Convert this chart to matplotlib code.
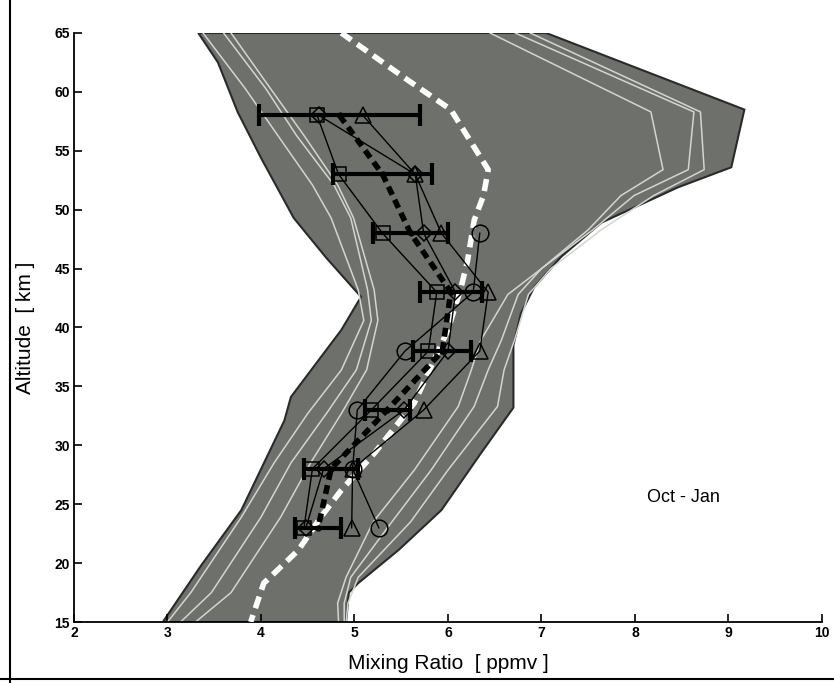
import matplotlib.pyplot as plt
from matplotlib.lines import Line2D

plt.rcParams['font.family'] = ['Liberation Sans', 'DejaVu Sans']

# altitude levels of the measurements
alt = [58, 53, 48, 43, 38, 33, 28, 23]
square = [4.60, 4.83, 5.30, 5.88, 5.79, 5.18, 4.55, 4.46]
diamond = [4.62, 5.65, 5.74, 6.08, 6.00, 5.53, 4.67, 4.48]
triangle = [5.09, 5.65, 5.93, 6.43, 6.34, 5.74, 4.98, 4.97]
circle_alt = [48, 43, 38, 33, 28, 23]
circle = [6.34, 6.27, 5.54, 5.03, 4.98, 5.26]
mean = [4.84, 5.30, 5.60, 6.03, 5.94, 5.35, 4.75, 4.61]
err = [0.86, 0.53, 0.40, 0.33, 0.31, 0.24, 0.29, 0.25]

# envelope (shaded range), clockwise from top-left
env_x = [3.33, 3.54, 3.75, 4.00, 4.35, 4.70, 5.07, 4.86, 4.32, 4.25, 3.79, 3.36, 2.95,
         4.91, 4.94, 5.04, 5.47, 5.93, 6.35, 6.70, 6.70, 6.78, 6.92, 7.21, 7.64, 8.46,
         9.03, 9.17, 7.05]
env_y = [65, 62.5, 58.3, 54.4, 49.3, 45.9, 42.6, 39.8, 34.1, 32.1, 24.5, 19.8, 15,
         15, 17.5, 18.3, 21.1, 24.5, 29.3, 33.2, 38.5, 41.2, 43.4, 46.0, 48.9, 51.9,
         53.6, 58.5, 65]

# thin light percentile lines
left_y = [65, 60.3, 56.3, 52.1, 49.3, 43.2, 40.6, 36.4, 32.7, 28.5, 23.9, 17.5, 15]
left1_x = [3.38, 3.83, 4.18, 4.55, 4.75, 5.04, 5.10, 4.86, 4.50, 4.14, 3.79, 3.25, 3.00]
left2_x = [3.60, 4.05, 4.38, 4.78, 4.96, 5.14, 5.18, 5.02, 4.70, 4.32, 4.00, 3.47, 3.14]
left3_x = [3.68, 4.10, 4.46, 4.82, 4.99, 5.21, 5.25, 5.13, 4.86, 4.53, 4.21, 3.68, 3.30]

right_y = [65, 58.3, 53.4, 51.2, 48.3, 45.0, 42.8, 38.9, 36.4, 33.3, 27.9, 23.5, 18.8, 16.6, 15]
right1_x = [6.45, 8.17, 8.30, 7.85, 7.50, 7.00, 6.64, 6.35, 6.25, 6.11, 5.64, 5.20, 4.91, 4.82, 4.83]
right2_x = [6.72, 8.63, 8.57, 7.99, 7.55, 7.00, 6.75, 6.57, 6.43, 6.28, 5.82, 5.40, 4.96, 4.89, 4.89]
right3_x = [6.88, 8.70, 8.74, 8.20, 7.64, 7.10, 6.86, 6.71, 6.60, 6.53, 6.00, 5.60, 5.04, 4.93, 4.91]

# climatology (white dashed)
clim_x = [4.86, 5.57, 6.03, 6.43, 6.38, 6.28, 6.21, 6.14, 6.00, 5.64, 5.21, 4.86, 4.64, 4.40, 4.03, 3.89]
clim_y = [65, 61.0, 58.5, 53.4, 51.2, 49.1, 45.7, 43.4, 39.8, 33.6, 29.3, 26.2, 23.9, 21.1, 18.3, 15.0]

fig = plt.figure(figsize=(8.34, 6.83), dpi=100)
ax = fig.add_axes([0.0887, 0.0893, 0.8969, 0.8624])

ax.fill(env_x, env_y, facecolor='#6e716b', edgecolor='#2a2a2a', lw=1.5, zorder=1)

for lx in [left1_x, left2_x, left3_x]:
    ax.plot(lx, left_y, color='#d3d6d0', lw=1.1, zorder=2)
for rx in [right1_x, right2_x, right3_x]:
    ax.plot(rx, right_y, color='#d3d6d0', lw=1.1, zorder=2)

ax.plot(clim_x, clim_y, color='white', lw=4, dashes=(2.2, 1.3), zorder=3)
ax.plot(mean, alt, color='black', lw=4, dashes=(1.6, 1.0), zorder=4)

mk = dict(color='black', lw=1.0, mfc='none', mec='black', mew=1.1, zorder=5)
ax.plot(square, alt, marker='s', ms=10, **mk)
ax.plot(diamond, alt, marker='D', ms=8, **mk)
ax.plot(triangle, alt, marker='^', ms=12, **mk)
ax.plot(circle, circle_alt, marker='o', ms=12, **mk)

ax.errorbar(mean, alt, xerr=err, fmt='o', ms=3.5, color='black', ecolor='black',
            elinewidth=3, capsize=8, capthick=3, zorder=6)

ax.text(8.52, 25.6, 'Oct - Jan', fontsize=13, ha='center', va='center')

ax.set_xlim(2, 10)
ax.set_ylim(15, 65)
ax.set_xticks(range(2, 11))
ax.set_yticks(range(15, 66, 5))
ax.spines['top'].set_visible(False)
ax.spines['right'].set_visible(False)
ax.spines['left'].set_linewidth(1.3)
ax.spines['bottom'].set_linewidth(1.3)
ax.tick_params(direction='in', length=6, width=1.2, labelsize=10, pad=3)
for lab in ax.get_xticklabels() + ax.get_yticklabels():
    lab.set_fontweight('bold')

ax.set_xlabel('Mixing Ratio  [ ppmv ]', fontsize=15, labelpad=10)
ax.set_ylabel('Altitude  [ km ]', fontsize=15, labelpad=14)

# scan edges
fig.add_artist(Line2D([0.012, 0.012], [0.0, 1.0], color='black', lw=1.5))
fig.add_artist(Line2D([0.0, 1.0], [0.006, 0.006], color='black', lw=1.5))

fig.savefig('out.png', dpi=100)
